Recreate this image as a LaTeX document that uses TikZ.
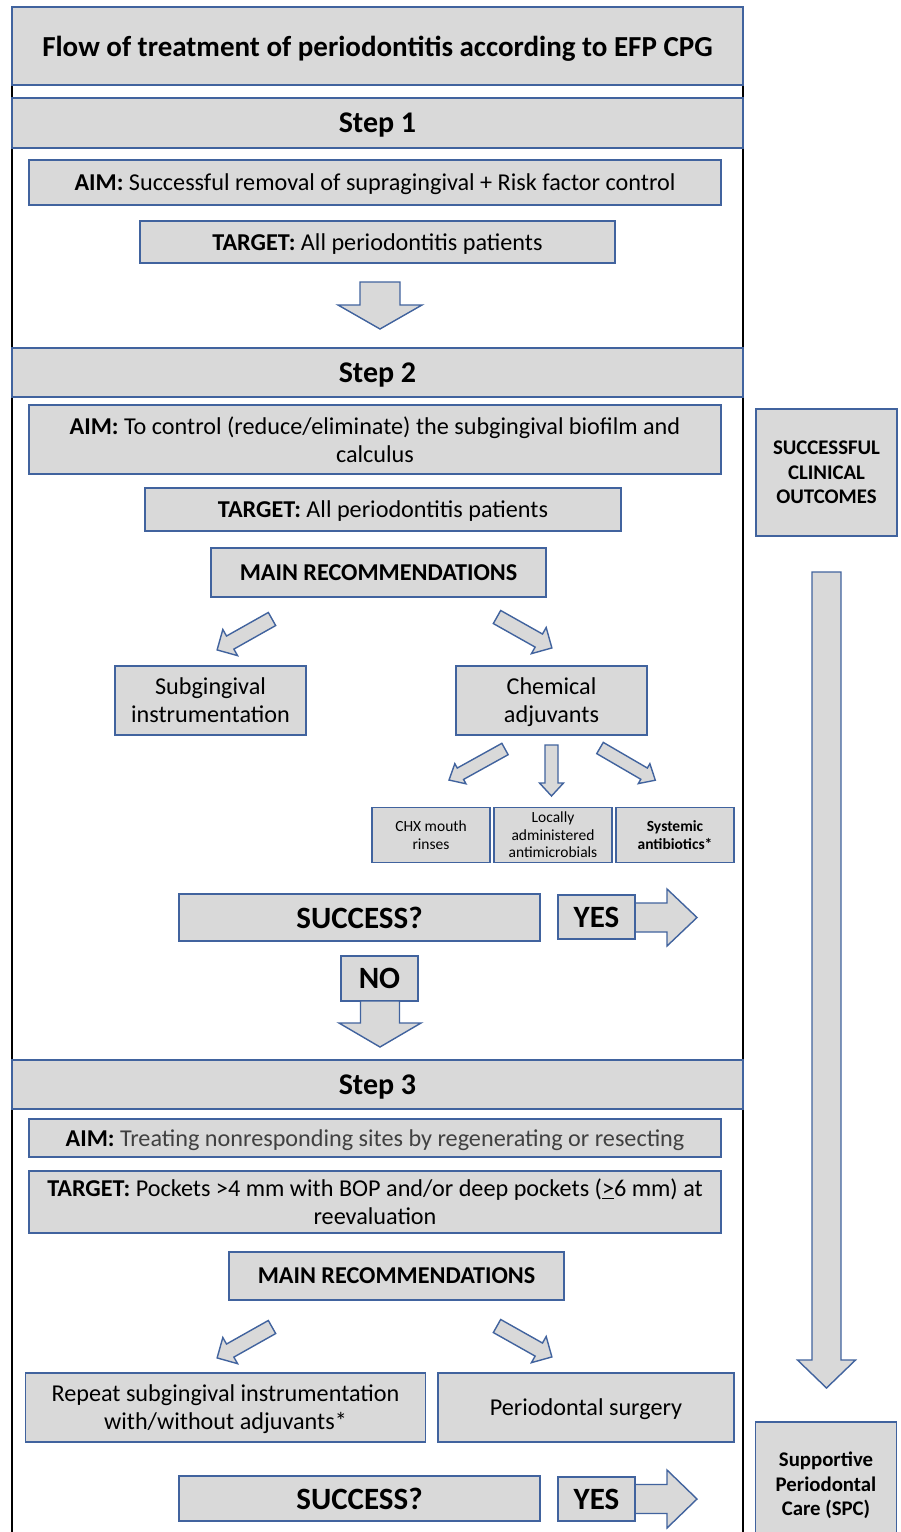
\documentclass[tikz,border=0pt]{standalone}
\usepackage{fontspec}
\setmainfont{Carlito}
\definecolor{edge}{HTML}{41639E}
\definecolor{boxfill}{HTML}{D9D9D9}
\definecolor{softink}{HTML}{404040}

% block arrow: x, y, angle, length, shaft width, head width, head length
\newcommand{\blockarrow}[7]{%
  \draw[arrowshape,shift={(#1,#2)},rotate=#3]
    (0,{#5/2}) -- ({#4-#7},{#5/2}) -- ({#4-#7},{#6/2}) -- (#4,0)
    -- ({#4-#7},{-#6/2}) -- ({#4-#7},{-#5/2}) -- (0,{-#5/2}) -- cycle;}

\begin{document}
\begin{tikzpicture}[x=1pt,y=-1pt,
    box/.style={draw=edge,fill=boxfill,line width=1.4pt,align=center,inner sep=0pt,text depth=0pt},
    bar/.style={box,minimum width=731pt,font=\fontsize{30}{34}\selectfont\bfseries},
    txt/.style={box,font=\fontsize{24.2}{28}\selectfont},
    small/.style={box,minimum width=118pt,minimum height=55pt,font=\fontsize{15.5}{17.5}\selectfont},
    big/.style={box,font=\fontsize{31}{34}\selectfont\bfseries},
    side/.style={box,minimum width=141pt,font=\fontsize{20.8}{24.5}\selectfont\bfseries},
    arrowshape/.style={draw=edge,fill=boxfill,line width=1.4pt,line join=miter}]
  \clip (0,0) rectangle (901,1532);
  \fill[white] (0,0) rectangle (901,1532);

  % frame
  \draw[black,line width=1.5pt] (12,85) -- (12,1532);
  \draw[black,line width=1.5pt] (743,85) -- (743,1532);

  \node[box,minimum width=731pt,minimum height=78pt,
        font=\fontsize{29}{34}\selectfont\bfseries] (title) at (377.5,46)
        {Flow of treatment of periodontitis according to EFP CPG};

  % step 1
  \node[bar,minimum height=50pt] (step1) at (377.5,123) {Step 1};
  \node[txt,minimum width=692pt,minimum height=45pt] (aim1) at (375,182.5)
        {\textbf{AIM:} Successful removal of supragingival + Risk factor control};
  \node[txt,minimum width=475pt,minimum height=42pt] (target1) at (377.5,242)
        {\textbf{TARGET:} All periodontitis patients};
  \blockarrow{380}{282}{-90}{47}{40}{84}{24}

  % step 2
  \node[bar,minimum height=49pt] (step2) at (377.5,372.5) {Step 2};
  \node[txt,minimum width=692pt,minimum height=69pt] (aim2) at (375,439.5)
        {\textbf{AIM:} To control (reduce/eliminate) the subgingival biofilm and\\calculus};
  \node[txt,minimum width=476pt,minimum height=43pt] (target2) at (383,509.5)
        {\textbf{TARGET:} All periodontitis patients};
  \node[txt,minimum width=335pt,minimum height=49pt,font=\fontsize{24.2}{28}\selectfont\bfseries]
        (main2) at (378.5,572.5) {MAIN RECOMMENDATIONS};
  \blockarrow{272}{619}{-150.6}{63}{15}{30}{15}
  \blockarrow{497}{617}{-29.4}{63}{15}{30}{15}
  \node[txt,minimum width=191pt,minimum height=69pt] (subg) at (210.5,700.5)
        {Subgingival\\instrumentation};
  \node[txt,minimum width=191pt,minimum height=69pt] (chem) at (551.5,700.5)
        {Chemical\\adjuvants};
  \blockarrow{505}{749}{-151}{64}{13}{23}{13}
  \blockarrow{551.5}{745}{-90}{51}{13}{24}{13}
  \blockarrow{600}{748}{-30.2}{64}{13}{23}{13}
  \node[small] (chx) at (431,835) {CHX mouth\\rinses};
  \node[small] (local) at (553,835) {Locally\\administered\\antimicrobials};
  \node[small,font=\fontsize{15.5}{17.5}\selectfont\bfseries] (syst) at (675,835)
        {Systemic\\antibiotics*};

  \node[big,minimum width=361pt,minimum height=47pt] (success1) at (359.5,917.5) {SUCCESS?};
  \blockarrow{634}{917.5}{0}{63}{29}{57}{30}
  \node[big,minimum width=77pt,minimum height=44pt] (yes1) at (596.5,917) {YES};
  \node[big,minimum width=77pt,minimum height=45pt] (no1) at (379.5,978.5) {NO};
  \blockarrow{380}{1001}{-90}{46}{39}{82}{24}

  % step 3
  \node[bar,minimum height=49pt] (step3) at (377.5,1084.5) {Step 3};
  \node[txt,minimum width=692pt,minimum height=38pt] (aim3) at (375,1138)
        {\textbf{AIM:} \textcolor{softink}{Treating nonresponding sites by regenerating or resecting}};
  \node[txt,minimum width=692pt,minimum height=62pt] (target3) at (375,1202)
        {\textbf{TARGET:} Pockets >4 mm with BOP and/or deep pockets (\underline{>}6 mm) at\\reevaluation};
  \node[txt,minimum width=335pt,minimum height=48pt,font=\fontsize{24.2}{28}\selectfont\bfseries]
        (main3) at (396.5,1276) {MAIN RECOMMENDATIONS};
  \blockarrow{272}{1327}{-150.6}{63}{15}{30}{15}
  \blockarrow{497}{1326}{-29.4}{63}{15}{30}{15}
  \node[txt,minimum width=400pt,minimum height=69pt] (repeat) at (225.5,1407.5)
        {Repeat subgingival instrumentation\\with/without adjuvants*};
  \node[txt,minimum width=296pt,minimum height=69pt] (surgery) at (586,1407.5)
        {Periodontal surgery};

  \node[big,minimum width=361pt,minimum height=45pt] (success2) at (359.5,1498.5) {SUCCESS?};
  \blockarrow{634}{1499}{0}{63}{29}{58}{30}
  \node[big,minimum width=77pt,minimum height=44pt] (yes2) at (596.5,1499) {YES};

  % right column
  \node[side,minimum height=127pt] (outcomes) at (826.5,472.5)
        {SUCCESSFUL\\CLINICAL\\OUTCOMES};
  \blockarrow{826.5}{572}{-90}{816}{29}{58}{28}
  \node[side,minimum height=124pt] (spc) at (826,1484)
        {Supportive\\Periodontal\\Care (SPC)};
\end{tikzpicture}
\end{document}
